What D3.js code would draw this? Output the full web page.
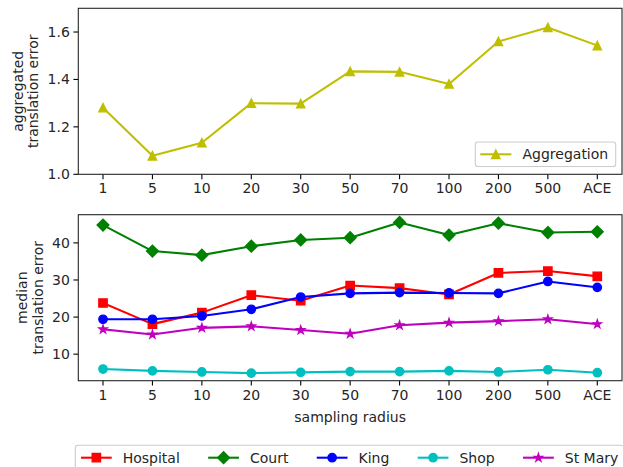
<!DOCTYPE html>
<html><head><meta charset="utf-8">
<script src="https://cdn.jsdelivr.net/npm/d3@7"></script>
<style>
html,body{margin:0;padding:0;background:#fff;}
svg{display:block;font-family:"DejaVu Sans",sans-serif;}
</style></head>
<body>
<svg id="c" width="623" height="467"></svg>
<script>
const categories = ["1","5","10","20","30","50","70","100","200","500","ACE"];
const aggregation = [1.281,1.078,1.133,1.300,1.298,1.434,1.432,1.381,1.560,1.619,1.543];
const hospital = [23.8,18.1,21.2,25.9,24.4,28.5,27.8,26.1,31.9,32.4,31.0];
const court    = [44.8,37.8,36.7,39.1,40.8,41.4,45.5,42.1,45.3,42.8,43.0];
const king     = [19.4,19.4,20.3,22.1,25.4,26.4,26.6,26.5,26.4,29.6,28.0];
const shop     = [6.0,5.5,5.2,4.9,5.1,5.3,5.3,5.5,5.2,5.8,5.0];
const stMary   = [16.7,15.3,17.1,17.5,16.5,15.5,17.8,18.5,18.9,19.4,18.1];
const topTicks = [1.0,1.2,1.4,1.6];
const bottomTicks = [10,20,30,40];
const seriesNames = ["Hospital","Court","King","Shop","St Mary"];

const series = [
  {name:seriesNames[0], values:hospital, color:"#ff0000", marker:"square"},
  {name:seriesNames[1], values:court,    color:"#008000", marker:"diamond"},
  {name:seriesNames[2], values:king,     color:"#0000ff", marker:"circle"},
  {name:seriesNames[3], values:shop,     color:"#00bfbf", marker:"circle"},
  {name:seriesNames[4], values:stMary,   color:"#bf00bf", marker:"star"}
];

const FS = 14;
const MS = 8.33; // markersize 6pt
function markerPath(type){
  const h = MS/2;
  if(type==="square") return `M${-h},${-h}H${h}V${h}H${-h}Z`;
  if(type==="diamond"){ const d = MS*Math.SQRT2/2; return `M0,${-d}L${d},0L0,${d}L${-d},0Z`; }
  if(type==="triangle") return `M0,${-h}L${h},${h}L${-h},${h}Z`;
  if(type==="circle") return `M${h},0A${h},${h} 0 1,1 ${-h},0A${h},${h} 0 1,1 ${h},0Z`;
  if(type==="star"){
    let p=[]; const inner = h*0.381966;
    for(let i=0;i<10;i++){
      const r = i%2===0?h:inner; const a = -Math.PI/2 + i*Math.PI/5;
      p.push([r*Math.cos(a), r*Math.sin(a)]);
    }
    return "M"+p.map(q=>q[0].toFixed(2)+","+q[1].toFixed(2)).join("L")+"Z";
  }
}

const svg = d3.select("#c");
const L = 78.3, R = 622;
const x = d3.scalePoint().domain(categories).range([L,R]).padding(0.5);

function drawAxes(g, y, ticks, fmt, top, bottom){
  ticks.forEach(t=>{
    g.append("line").attr("x1",L-4.9).attr("x2",L).attr("y1",y(t)).attr("y2",y(t)).attr("stroke","#000").attr("stroke-width",1.1);
    g.append("text").attr("x",L-8.5).attr("y",y(t)).attr("dy","0.36em").attr("text-anchor","end")
      .attr("font-size",FS).attr("fill","#262626").text(fmt(t));
  });
  categories.forEach(c=>{
    g.append("line").attr("x1",x(c)).attr("x2",x(c)).attr("y1",bottom).attr("y2",bottom+4.9).attr("stroke","#000").attr("stroke-width",1.1);
    g.append("text").attr("x",x(c)).attr("y",bottom+8.3).attr("dy","0.76em").attr("text-anchor","middle")
      .attr("font-size",FS).attr("fill","#262626").text(c);
  });
  g.append("rect").attr("x",L).attr("y",top).attr("width",R-L).attr("height",bottom-top)
    .attr("fill","none").attr("stroke","#262626").attr("stroke-width",1.1);
}

function drawSeries(g, y, vals, color, marker){
  const line = d3.line().x((d,i)=>x(categories[i])).y(d=>y(d));
  g.append("path").attr("d",line(vals)).attr("fill","none").attr("stroke",color).attr("stroke-width",2.08)
    .attr("stroke-linejoin","round").attr("stroke-linecap","square");
  g.selectAll(null).data(vals).enter().append("path")
    .attr("transform",(d,i)=>`translate(${x(categories[i])},${y(d)})`)
    .attr("d",markerPath(marker)).attr("fill",color).attr("stroke",color).attr("stroke-width",1.39);
}

// Top panel
const topT = 8.3, topB = 174.3;
const yTop = d3.scaleLinear().domain([1.0,1.7]).range([topB,topT]);
const gTop = svg.append("g");
drawSeries(gTop, yTop, aggregation, "#bfbf00", "triangle");
drawAxes(gTop, yTop, topTicks, d3.format(".1f"), topT, topB);
svg.append("text").attr("transform",`translate(17.7,${(topT+topB)/2}) rotate(-90)`).attr("text-anchor","middle").attr("dy","0.36em")
  .attr("font-size",FS).attr("fill","#262626").text("aggregated");
svg.append("text").attr("transform",`translate(33.3,${(topT+topB)/2}) rotate(-90)`).attr("text-anchor","middle").attr("dy","0.36em")
  .attr("font-size",FS).attr("fill","#262626").text("translation error");

// Top legend
const lg = svg.append("g");
lg.append("rect").attr("x",475.3).attr("y",142).attr("width",140.4).attr("height",24.5).attr("rx",2.8)
  .attr("fill","#fff").attr("fill-opacity",0.8).attr("stroke","#cccccc").attr("stroke-width",1.1);
lg.append("line").attr("x1",481.3).attr("x2",510.3).attr("y1",154.3).attr("y2",154.3).attr("stroke","#bfbf00").attr("stroke-width",2.08).attr("stroke-linecap","square");
lg.append("path").attr("transform","translate(495.8,154.3)").attr("d",markerPath("triangle")).attr("fill","#bfbf00").attr("stroke","#bfbf00").attr("stroke-width",1.39);
lg.append("text").attr("x",522.5).attr("y",154.3).attr("dy","0.36em").attr("font-size",FS).attr("fill","#262626").text("Aggregation");

// Bottom panel
const botT = 214.7, botB = 380.7;
const yBot = d3.scaleLinear().domain([2.85,47.6]).range([botB,botT]);
const gBot = svg.append("g");
series.forEach(s=>drawSeries(gBot, yBot, s.values, s.color, s.marker));
drawAxes(gBot, yBot, bottomTicks, d3.format("d"), botT, botB);
svg.append("text").attr("transform",`translate(22,${(botT+botB)/2}) rotate(-90)`).attr("text-anchor","middle").attr("dy","0.36em")
  .attr("font-size",FS).attr("fill","#262626").text("median");
svg.append("text").attr("transform",`translate(37.7,${(botT+botB)/2}) rotate(-90)`).attr("text-anchor","middle").attr("dy","0.36em")
  .attr("font-size",FS).attr("fill","#262626").text("translation error");
svg.append("text").attr("x",(L+R)/2).attr("y",416.5).attr("dy","0.36em").attr("text-anchor","middle")
  .attr("font-size",FS).attr("fill","#262626").text("sampling radius");

// Bottom legend
const bl = svg.append("g");
const frame = bl.append("rect").attr("x",75.3).attr("y",445.3).attr("height",26).attr("rx",2.8)
  .attr("fill","#fff").attr("fill-opacity",0.8).attr("stroke","#cccccc").attr("stroke-width",1.1);
let cx = 82;
const ly = 457.7;
series.forEach(s=>{
  bl.append("line").attr("x1",cx).attr("x2",cx+28.7).attr("y1",ly).attr("y2",ly).attr("stroke",s.color).attr("stroke-width",2.08).attr("stroke-linecap","square");
  bl.append("path").attr("transform",`translate(${cx+14.35},${ly})`).attr("d",markerPath(s.marker)).attr("fill",s.color).attr("stroke",s.color).attr("stroke-width",1.39);
  const t = bl.append("text").attr("x",cx+40.7).attr("y",ly).attr("dy","0.36em").attr("font-size",FS).attr("fill","#262626").text(s.name);
  const w = t.node().getComputedTextLength();
  cx = cx+40.7+w+29.4;
});
frame.attr("width", cx-29.4+5.6-75.3);
</script>
</body></html>
